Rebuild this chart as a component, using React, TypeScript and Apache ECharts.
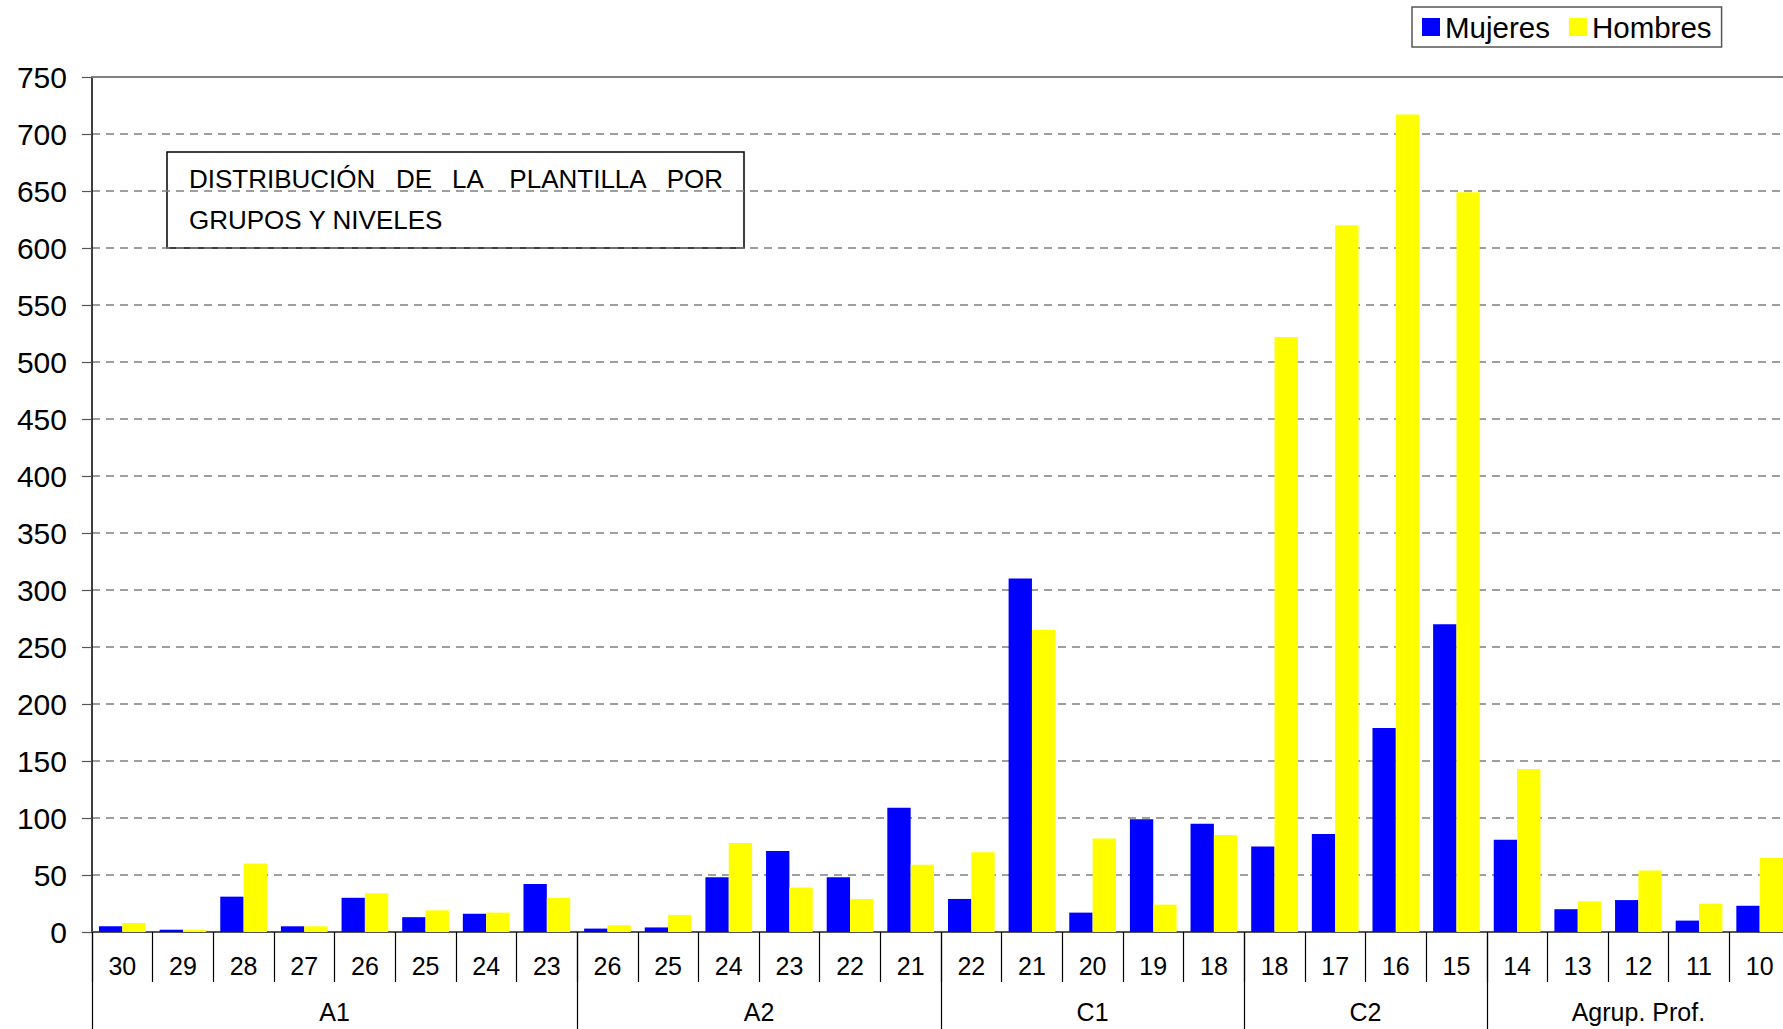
import React, { useEffect, useRef } from "react";
import * as echarts from "echarts";

const levels = ["30","29","28","27","26","25","24","23","26","25","24","23","22","21","22","21","20","19","18","18","17","16","15","14","13","12","11","10"];
const mujeres = [5, 2, 31, 5, 30, 13, 16, 42, 3, 4, 48, 71, 48, 109, 29, 310, 17, 99, 95, 75, 86, 179, 270, 81, 20, 28, 10, 23];
const hombres = [8, 2, 60, 5, 34, 19, 17, 30, 6, 15, 78, 39, 29, 59, 70, 265, 82, 24, 85, 522, 620, 717, 649, 143, 27, 54, 25, 65];
const groups = ["A1", "A2", "C1", "C2", "Agrup. Prof."];
const groupSizes = [8, 6, 5, 4, 5];
const yTicks = { min: 0, max: 750, interval: 50 };
const titleLine1 = ["DISTRIBUCIÓN", "DE", "LA", "PLANTILLA", "POR"];
const titleLine2 = "GRUPOS Y NIVELES";

const FONT = "'Liberation Sans', Arial, Helvetica, sans-serif";

export default function App() {
  const ref = useRef<HTMLDivElement>(null);
  useEffect(() => {
    if (!ref.current) return;
    const chart = echarts.init(ref.current, undefined, { renderer: "svg" });
    const boundaries: number[] = [0];
    groupSizes.forEach((s) => boundaries.push(boundaries[boundaries.length - 1] + s));
    const centers = groupSizes.map((s, i) => boundaries[i] + s / 2);
    const n = levels.length;

    const wordX = [189, 414, 468, 578, 723];
    const wordAlign = ["left", "center", "center", "center", "right"];

    chart.setOption({
      animation: false,
      backgroundColor: "#ffffff",
      textStyle: { fontFamily: FONT },
      legend: {
        data: ["Mujeres", "Hombres"],
        left: 1412,
        top: 7,
        itemWidth: 18,
        itemHeight: 18,
        itemGap: 19,
        icon: "rect",
        padding: [5, 10],
        borderColor: "#555555",
        borderWidth: 1.5,
        textStyle: { fontSize: 29.5, color: "#000", fontFamily: FONT },
      },
      grid: { left: 92, top: 77, width: 1698, height: 855, containLabel: false },
      xAxis: [
        {
          type: "category",
          data: levels,
          position: "bottom",
          axisLine: { show: true, lineStyle: { color: "#555555", width: 2 } },
          axisTick: { show: true, interval: 0, length: 50, lineStyle: { color: "#000", width: 1.2 } },
          axisLabel: {
            interval: 0,
            fontSize: 25,
            color: "#000",
            margin: 34,
            verticalAlign: "middle",
            fontFamily: FONT,
          },
          splitLine: { show: false },
        },
        {
          type: "value",
          min: 0,
          max: n,
          position: "bottom",
          axisLine: { show: false },
          axisTick: {
            show: true,
            customValues: boundaries,
            length: 100,
            lineStyle: { color: "#000", width: 1.2 },
          },
          axisLabel: {
            show: true,
            customValues: centers,
            formatter: (v: number) => {
              const i = centers.findIndex((c) => Math.abs(c - v) < 1e-6);
              return i >= 0 ? groups[i] : "";
            },
            fontSize: 25,
            color: "#000",
            margin: 80,
            verticalAlign: "middle",
            fontFamily: FONT,
          },
          splitLine: { show: false },
        },
        {
          type: "value",
          min: 0,
          max: n,
          position: "top",
          axisLine: { show: true, lineStyle: { color: "#808080", width: 2 } },
          axisTick: { show: false },
          axisLabel: { show: false },
          splitLine: { show: false },
        },
      ],
      yAxis: {
        type: "value",
        min: yTicks.min,
        max: yTicks.max,
        interval: yTicks.interval,
        axisLine: { show: true, lineStyle: { color: "#000", width: 1.5 } },
        axisTick: { show: true, length: 10, lineStyle: { color: "#555", width: 1.2 } },
        axisLabel: { fontSize: 30, color: "#000", margin: 25, fontFamily: FONT },
        splitLine: { show: true, lineStyle: { color: "#808080", width: 1.5, type: [8, 6] } },
      },
      series: [
        {
          name: "Mujeres",
          type: "bar",
          xAxisIndex: 0,
          data: mujeres,
          itemStyle: { color: "#0000FF" },
          barGap: "0%",
          barCategoryGap: "23%",
        },
        {
          name: "Hombres",
          type: "bar",
          xAxisIndex: 0,
          data: hombres,
          itemStyle: { color: "#FFFF00" },
          barGap: "0%",
          barCategoryGap: "23%",
        },
      ],
      graphic: [
        {
          type: "group",
          z: 100,
          children: [
            {
              type: "rect",
              shape: { x: 167, y: 152, width: 577, height: 96 },
              style: { fill: "#ffffff", stroke: "#000", lineWidth: 1.5 },
            },
            ...titleLine1.map((w, i) => ({
              type: "text",
              x: wordX[i],
              y: 179,
              style: {
                text: w,
                fontSize: 26,
                fontFamily: FONT,
                fill: "#000",
                textAlign: wordAlign[i],
                textVerticalAlign: "middle",
              },
            })),
            {
              type: "text",
              x: 189,
              y: 220,
              style: {
                text: titleLine2,
                fontSize: 26,
                fontFamily: FONT,
                fill: "#000",
                textAlign: "left",
                textVerticalAlign: "middle",
              },
            },
          ],
        },
      ],
    });
    return () => chart.dispose();
  }, []);
  return (
    <div
      style={{
        position: "absolute",
        left: 0,
        top: 0,
        width: 1783,
        height: 1029,
        overflow: "hidden",
        background: "#fff",
      }}
    >
      <div ref={ref} style={{ width: 1800, height: 1029 }} />
    </div>
  );
}
